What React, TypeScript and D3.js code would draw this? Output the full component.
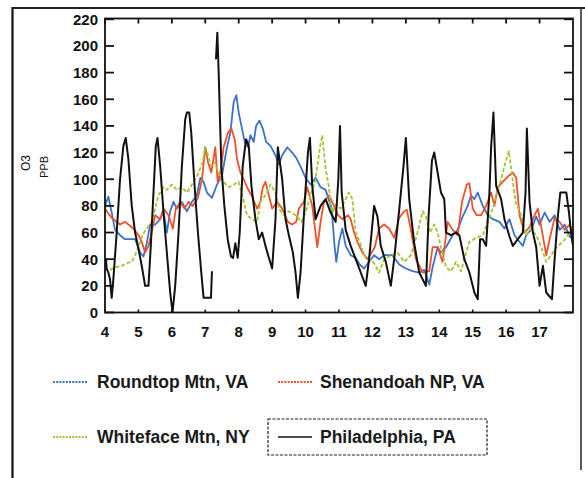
import React from "react";
import * as d3 from "d3";

type Pt = [number, number | null];

const yTicks = [0, 20, 40, 60, 80, 100, 120, 140, 160, 180, 200, 220];
const xTicks = [4, 5, 6, 7, 8, 9, 10, 11, 12, 13, 14, 15, 16, 17];

const seriesNames = ["Roundtop Mtn, VA", "Shenandoah NP, VA", "Whiteface Mtn, NY", "Philadelphia, PA"];

const roundtop: Pt[] = [
  [4.0,80],[4.1,87],[4.2,75],[4.3,62],[4.45,58],[4.6,55],[4.75,55],[4.9,55],[5.05,45],[5.15,42],[5.25,52],[5.35,66],[5.5,66],[5.65,70],[5.75,76],[5.85,60],[5.95,76],[6.05,83],[6.15,78],[6.3,83],[6.45,76],[6.6,83],[6.75,88],[6.85,101],[6.95,98],[7.05,90],[7.2,86],[7.35,96],[7.5,103],[7.65,124],[7.75,135],[7.85,158],[7.93,163],[8.0,150],[8.08,140],[8.18,128],[8.28,124],[8.35,133],[8.45,128],[8.52,140],[8.62,144],[8.72,138],[8.82,128],[8.95,125],[9.1,118],[9.2,111],[9.3,118],[9.45,124],[9.6,120],[9.72,116],[9.88,108],[10.0,101],[10.15,96],[10.3,101],[10.45,94],[10.6,92],[10.78,78],[10.87,49],[10.92,38],[11.0,53],[11.1,63],[11.2,50],[11.35,43],[11.5,41],[11.62,36],[11.75,33],[11.9,38],[12.05,43],[12.2,40],[12.35,43],[12.6,43],[12.8,36],[13.0,33],[13.2,31],[13.4,30],[13.55,32],[13.7,21],[13.8,34],[13.95,49],[14.05,45],[14.2,49],[14.4,58],[14.55,62],[14.7,72],[14.85,80],[14.95,88],[15.05,85],[15.15,90],[15.3,80],[15.45,73],[15.6,70],[15.8,68],[15.95,63],[16.1,70],[16.25,58],[16.4,53],[16.5,50],[16.6,58],[16.75,62],[16.9,72],[17.0,66],[17.15,75],[17.3,68],[17.45,73],[17.6,62],[17.75,66],[17.9,57],[18.0,55]
];

const shenandoah: Pt[] = [
  [4.0,78],[4.08,75],[4.2,71],[4.45,66],[4.6,68],[4.85,63],[5.0,58],[5.1,53],[5.2,45],[5.3,50],[5.38,58],[5.5,73],[5.65,70],[5.75,78],[5.9,73],[6.03,63],[6.12,78],[6.25,83],[6.38,78],[6.5,83],[6.62,80],[6.78,86],[6.9,100],[7.0,124],[7.08,113],[7.18,105],[7.3,124],[7.37,98],[7.45,105],[7.55,124],[7.68,135],[7.78,138],[7.88,130],[7.95,115],[8.05,105],[8.15,100],[8.25,94],[8.38,88],[8.55,78],[8.65,83],[8.72,94],[8.8,98],[8.9,88],[9.0,78],[9.15,83],[9.3,78],[9.47,68],[9.6,66],[9.72,68],[9.8,78],[9.95,83],[10.05,94],[10.2,80],[10.35,49],[10.45,68],[10.55,83],[10.7,88],[10.85,80],[10.97,73],[11.1,70],[11.27,73],[11.35,70],[11.45,60],[11.55,53],[11.7,45],[11.85,40],[12.07,49],[12.2,63],[12.35,66],[12.5,63],[12.65,56],[12.8,71],[12.95,76],[13.03,77],[13.15,62],[13.3,40],[13.5,30],[13.7,31],[13.8,49],[13.95,49],[14.1,38],[14.25,68],[14.4,62],[14.55,58],[14.68,83],[14.82,96],[14.9,97],[15.0,78],[15.12,73],[15.25,73],[15.4,80],[15.55,90],[15.65,80],[15.75,94],[15.9,98],[16.05,102],[16.2,105],[16.3,101],[16.4,73],[16.55,60],[16.7,64],[16.85,73],[16.95,78],[17.05,64],[17.2,43],[17.3,55],[17.45,71],[17.6,68],[17.75,62],[17.9,66],[18.0,60]
];

const whiteface: Pt[] = [
  [4.15,32],[4.3,34],[4.5,35],[4.65,37],[4.8,38],[4.9,43],[5.0,49],[5.12,58],[5.25,63],[5.4,68],[5.52,80],[5.6,88],[5.75,94],[5.85,92],[6.0,96],[6.15,92],[6.3,94],[6.45,90],[6.55,94],[6.7,100],[6.8,105],[6.92,113],[7.0,124],[7.08,118],[7.18,110],[7.28,113],[7.42,103],[7.55,98],[7.7,94],[7.85,96],[8.0,98],[8.12,86],[8.25,73],[8.4,70],[8.55,68],[8.65,83],[8.8,88],[8.95,96],[9.1,90],[9.2,78],[9.35,73],[9.5,76],[9.7,73],[9.88,68],[10.0,75],[10.15,88],[10.3,100],[10.43,124],[10.5,133],[10.6,108],[10.7,94],[10.78,73],[10.9,81],[11.05,78],[11.2,85],[11.3,90],[11.4,85],[11.5,60],[11.62,53],[11.75,43],[11.9,40],[12.05,37],[12.2,30],[12.35,40],[12.5,42],[12.75,45],[12.95,38],[13.15,43],[13.35,60],[13.5,76],[13.6,72],[13.72,60],[13.85,66],[13.95,60],[14.05,49],[14.2,34],[14.35,31],[14.5,38],[14.65,31],[14.78,43],[14.9,53],[15.1,56],[15.3,58],[15.45,68],[15.6,78],[15.7,88],[15.85,100],[15.95,110],[16.08,121],[16.15,108],[16.28,83],[16.45,73],[16.6,58],[16.75,63],[16.9,58],[17.05,49],[17.2,38],[17.35,43],[17.5,49],[17.7,53],[17.85,58],[18.0,60]
];

const philadelphia: Pt[] = [
  [4.0,40],[4.03,40],[4.05,33],[4.1,30],[4.15,25],[4.2,11],[4.25,25],[4.35,60],[4.45,100],[4.55,125],[4.62,131],[4.7,115],[4.8,80],[4.9,60],[5.0,48],[5.1,35],[5.2,20],[5.3,20],[5.37,50],[5.45,90],[5.52,125],[5.57,131],[5.65,110],[5.75,75],[5.85,45],[5.95,15],[6.02,0],[6.1,20],[6.2,60],[6.3,110],[6.4,145],[6.45,150],[6.52,150],[6.58,135],[6.68,95],[6.78,60],[6.88,30],[6.95,11],[7.1,11],[7.17,11],[7.2,31],[7.25,null],[7.32,190],[7.36,210],[7.4,180],[7.48,110],[7.57,80],[7.67,55],[7.77,42],[7.83,41],[7.9,52],[7.97,41],[8.03,60],[8.12,110],[8.22,130],[8.3,125],[8.38,95],[8.5,70],[8.6,55],[8.7,60],[8.8,50],[8.88,43],[9.0,33],[9.1,70],[9.17,124],[9.3,100],[9.4,70],[9.5,58],[9.62,45],[9.7,30],[9.77,11],[9.85,30],[9.95,73],[10.07,120],[10.13,131],[10.2,95],[10.3,70],[10.45,80],[10.6,85],[10.75,75],[10.9,68],[10.98,100],[11.03,140],[11.08,90],[11.2,62],[11.35,50],[11.5,40],[11.65,30],[11.8,20],[11.9,40],[12.05,80],[12.15,72],[12.25,50],[12.4,38],[12.55,20],[12.65,40],[12.8,77],[12.93,110],[13.0,131],[13.1,85],[13.25,52],[13.4,30],[13.6,20],[13.68,72],[13.78,114],[13.85,120],[13.95,105],[14.05,90],[14.15,85],[14.2,60],[14.35,58],[14.5,60],[14.6,58],[14.75,40],[14.9,30],[15.05,15],[15.15,10],[15.22,55],[15.3,55],[15.4,50],[15.5,90],[15.55,124],[15.62,150],[15.7,95],[15.85,85],[15.95,70],[16.1,57],[16.2,50],[16.35,55],[16.5,60],[16.58,90],[16.62,138],[16.7,83],[16.8,60],[16.9,49],[17.0,20],[17.1,35],[17.2,15],[17.3,12],[17.37,10],[17.45,40],[17.55,73],[17.62,90],[17.8,90],[17.88,75],[17.95,58],[18.0,50]
];

const colors = ["#3d72c9", "#f2502a", "#a2c634", "#111111"];
const dashes = ["none", "none", "4,2", "none"];

export default function App() {
  const x = d3.scaleLinear().domain([4, 18]).range([105, 573]);
  const y = d3.scaleLinear().domain([0, 220]).range([312.5, 19.3]);
  const line = d3
    .line<Pt>()
    .defined((d) => d[1] !== null)
    .x((d) => x(d[0]))
    .y((d) => y(d[1] as number));

  const data = [roundtop, shenandoah, whiteface, philadelphia];
  const font = "'Liberation Sans', Arial, Helvetica, sans-serif";
  const left = x.range()[0];
  const right = x.range()[1];
  const top = y.range()[1] - 0.8;
  const bottom = y.range()[0];

  const legend = [
    { lx: 53, tx: 97, ly: 382 },
    { lx: 278, tx: 320, ly: 382 },
    { lx: 53, tx: 97, ly: 437 },
    { lx: 278, tx: 320, ly: 437 },
  ];

  return (
    <svg
      width={585}
      height={478}
      style={{ position: "absolute", left: 0, top: 0, background: "#fff" }}
      fontFamily={font}
    >
      <rect x={0} y={0} width={585} height={478} fill="#fff" />
      {/* outer frame */}
      <line x1={12.5} y1={7} x2={12.5} y2={478} stroke="#111" strokeWidth={2.2} />
      <line x1={12} y1={8} x2={585} y2={8} stroke="#222" strokeWidth={2} />
      <line x1={581} y1={7} x2={581} y2={470} stroke="#333" strokeWidth={1.6} />

      {/* data */}
      <defs>
        <clipPath id="clip">
          <rect x={left} y={top} width={right - left} height={bottom - top} />
        </clipPath>
      </defs>
      <g clipPath="url(#clip)">
        {data.map((d, i) => (
          <path
            key={i}
            d={line(d) || ""}
            fill="none"
            stroke={colors[i]}
            strokeWidth={i === 3 ? 2 : 1.8}
            strokeDasharray={dashes[i]}
            strokeLinejoin="round"
          />
        ))}
      </g>

      {/* plot frame */}
      <rect x={left} y={top} width={right - left} height={bottom - top} fill="none" stroke="#111" strokeWidth={1.8} />

      {/* y ticks */}
      {yTicks.map((t) => (
        <g key={"y" + t}>
          <line x1={left} x2={left + 9} y1={y(t)} y2={y(t)} stroke="#111" strokeWidth={1.8} />
          <line x1={right - 9} x2={right} y1={y(t)} y2={y(t)} stroke="#111" strokeWidth={1.8} />
          <text x={98} y={y(t)} dy="0.36em" textAnchor="end" fontSize={15} fontWeight="bold" fill="#111">
            {t}
          </text>
        </g>
      ))}

      {/* x ticks */}
      {xTicks.map((t) => (
        <g key={"x" + t}>
          <line x1={x(t)} x2={x(t)} y1={bottom} y2={bottom - 3} stroke="#111" strokeWidth={1.6} />
          <line x1={x(t)} x2={x(t)} y1={top} y2={top + 5} stroke="#111" strokeWidth={1.8} />
          <text x={x(t)} y={337} textAnchor="middle" fontSize={15} fontWeight="bold" fill="#111">
            {t}
          </text>
        </g>
      ))}

      {/* axis title */}
      <text transform="translate(30,163) rotate(-90)" textAnchor="middle" fontSize={12} fill="#111">
        O3
      </text>
      <text transform="translate(48,167) rotate(-90)" textAnchor="middle" fontSize={11} fill="#111">
        PPB
      </text>

      {/* legend */}
      <rect x={268} y={419} width={219} height={36} fill="none" stroke="#222" strokeWidth={1.2} strokeDasharray="3,1.5" />
      {legend.map((l, i) => (
        <g key={"lg" + i}>
          <line
            x1={l.lx}
            x2={l.lx + 34}
            y1={l.ly}
            y2={l.ly}
            stroke={colors[i]}
            strokeWidth={i === 3 ? 1.6 : 1.8}
            strokeDasharray={i === 3 ? "none" : "2,1.2"}
          />
          <text x={l.tx} y={l.ly + 6} fontSize={17.5} fontWeight="bold" fill="#1a1a1a">
            {seriesNames[i]}
          </text>
        </g>
      ))}
    </svg>
  );
}
